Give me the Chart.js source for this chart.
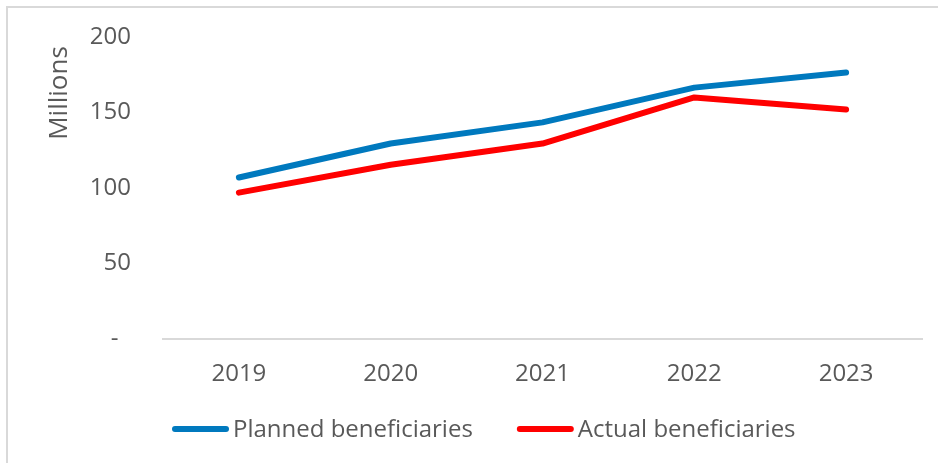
<!DOCTYPE html>
<html lang="en">
<head>
    <meta charset="UTF-8">
    <title>Planned vs actual beneficiaries</title>
    <script src="https://cdn.jsdelivr.net/npm/chart.js"></script>
    <style>
        body { margin: 0; background: #fff; }
        .frame {
            position: absolute;
            left: 6px;
            top: 6px;
            width: 1000px;
            height: 500px;
            border-left: 2px solid #d9d9d9;
            border-top: 2px solid #d9d9d9;
        }
        .chart-container {
            position: absolute;
            left: 0;
            top: 0;
            width: 938px;
            height: 463px;
        }
    </style>
</head>
<body>
    <div class="frame"></div>
    <div class="chart-container">
        <canvas id="benChart" width="938" height="463"></canvas>
    </div>
    <script>
        const years = ['2019', '2020', '2021', '2022', '2023'];
        const planned = [107, 129.5, 143.5, 166.5, 176.5];
        const actual = [97, 115.5, 129.5, 160, 152];
        const seriesNames = ['Planned beneficiaries', 'Actual beneficiaries'];
        const seriesColors = ['#0079be', '#ff0000'];
        const yTicks = [0, 50, 100, 150, 200];
        const axisTitle = 'Millions';

        const textColor = '#595959';
        const fontFamily = '"Open Sans", "Noto Sans", sans-serif';

        // legend and rotated axis title drawn by hand so spacing stays tight
        const extras = {
            id: 'extras',
            afterDraw(chart) {
                const ctx = chart.ctx;
                ctx.save();
                ctx.fillStyle = textColor;

                ctx.translate(60, 93);
                ctx.rotate(-Math.PI / 2);
                ctx.font = '26px ' + fontFamily;
                ctx.textAlign = 'center';
                ctx.textBaseline = 'middle';
                ctx.fillText(axisTitle, 0, 0);
                ctx.setTransform(1, 0, 0, 1, 0, 0);

                ctx.font = '24px ' + fontFamily;
                ctx.textAlign = 'left';
                let x = 172;
                const y = 429;
                chart.data.datasets.forEach(ds => {
                    ctx.strokeStyle = ds.borderColor;
                    ctx.lineWidth = 6;
                    ctx.lineCap = 'round';
                    ctx.beginPath();
                    ctx.moveTo(x + 3, y);
                    ctx.lineTo(x + 54, y);
                    ctx.stroke();
                    ctx.fillText(ds.label, x + 61, y + 1);
                    x += 61 + ctx.measureText(ds.label).width + 44;
                });
                ctx.restore();
            }
        };

        const ctx = document.getElementById('benChart').getContext('2d');
        new Chart(ctx, {
            type: 'line',
            data: {
                labels: years,
                datasets: [planned, actual].map((values, i) => ({
                    label: seriesNames[i],
                    data: values,
                    borderColor: seriesColors[i],
                    backgroundColor: seriesColors[i],
                    borderWidth: 6,
                    borderCapStyle: 'round',
                    borderJoinStyle: 'round',
                    pointRadius: 0,
                    tension: 0,
                    fill: false
                }))
            },
            options: {
                responsive: false,
                animation: false,
                layout: { padding: { top: 37, right: 16, bottom: 53, left: 0 } },
                plugins: {
                    legend: { display: false },
                    tooltip: { enabled: false }
                },
                scales: {
                    x: {
                        offset: true,
                        grid: { display: false, drawTicks: false },
                        border: { display: true, color: '#d9d9d9', width: 2 },
                        ticks: {
                            color: textColor,
                            padding: 21,
                            font: { family: fontFamily, size: 24 }
                        }
                    },
                    y: {
                        min: 0,
                        max: 200,
                        afterFit(scale) {
                            scale.width = 163;
                            scale.paddingTop = 0;
                            scale.paddingBottom = 0;
                        },
                        afterBuildTicks(scale) {
                            scale.ticks = yTicks.map(v => ({ value: v }));
                        },
                        grid: { display: false, drawTicks: false },
                        border: { display: false },
                        ticks: {
                            color: textColor,
                            padding: 32,
                            font: { family: fontFamily, size: 24 },
                            callback: v => v === 0 ? '-  ' : v
                        }
                    }
                }
            },
            plugins: [extras]
        });
    </script>
</body>
</html>
